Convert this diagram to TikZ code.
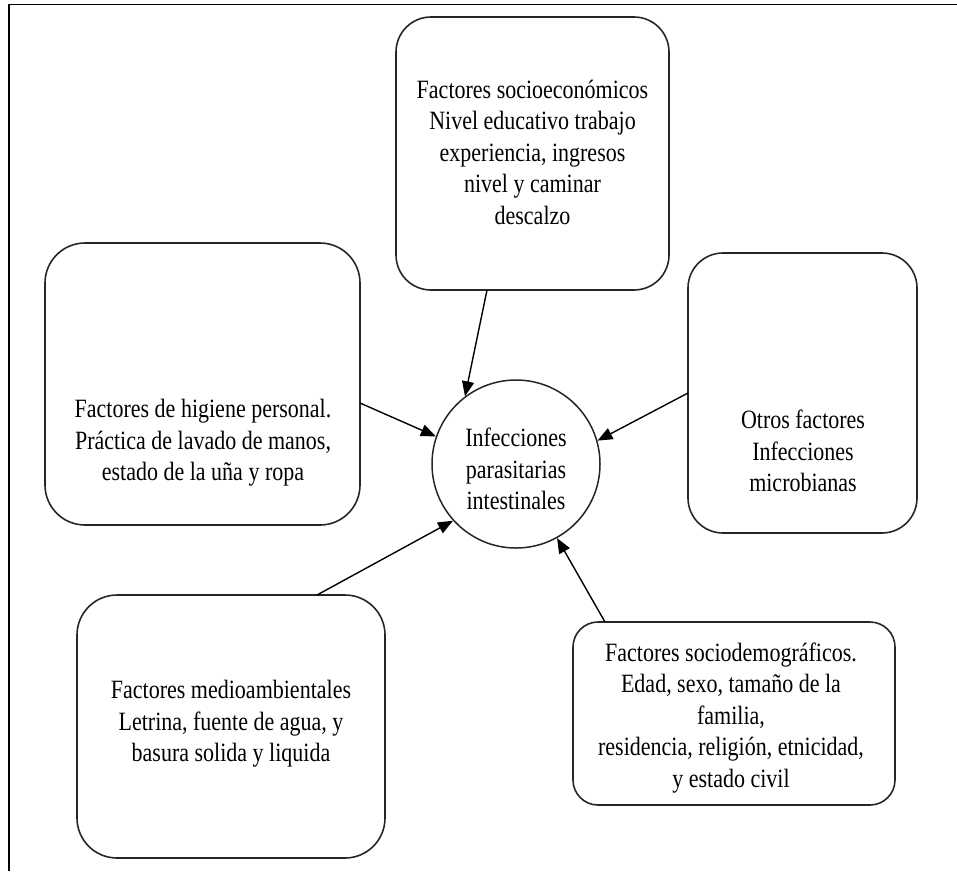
\documentclass[tikz,border=0pt]{standalone}
\usepackage{fontspec}
\usepackage{graphicx}
\setmainfont{Liberation Serif}
\usetikzlibrary{arrows.meta}
\newcommand\estirar[1]{\scalebox{1}[1.2]{\begin{tabular}{@{}c@{}}#1\end{tabular}}}
\tikzset{
  caja/.style={draw=black!85,line width=1.6pt,rounded corners=#1,inner sep=0pt},
  caja/.default=35pt,
  texto/.style={font=\fontsize{22}{26.3}\selectfont,inner sep=0pt},
}
\begin{document}
\begin{tikzpicture}[x=1pt,y=-1pt,>={Triangle[length=15pt,width=12pt]},line join=round]
\useasboundingbox (0,0) rectangle (957,871);
% marco
\draw[line width=1.5pt] (9,871)--(9,4.5)--(957,4.5);
% cajas
\node[caja,minimum width=273pt,minimum height=273pt] (socio) at (532.5,153.5) {};
\node[caja=40pt,minimum width=315pt,minimum height=282pt] (higiene) at (202.5,384) {};
\node[caja,minimum width=229pt,minimum height=280pt] (otros) at (802.5,393) {};
\node[caja=40pt,minimum width=308pt,minimum height=263pt] (medio) at (231,726.5) {};
\node[caja=25pt,minimum width=322pt,minimum height=183pt] (demo) at (734,713.5) {};
\node[draw=black!85,line width=1.5pt,circle,minimum size=168pt,inner sep=0pt] (circ) at (516,464) {};
% textos
\node[texto] (t-socio) at (532.5,155) {\estirar{Factores socioeconómicos\\Nivel educativo trabajo\\experiencia, ingresos\\nivel y caminar\\descalzo}};
\node[texto] (t-higiene) at (203,443) {\estirar{Factores de higiene personal.\\Práctica de lavado de manos,\\estado de la uña y ropa}};
\node[texto] (t-otros) at (803,454) {\estirar{Otros factores\\Infecciones\\microbianas}};
\node[texto] (t-circ) at (516,472) {\estirar{Infecciones\\parasitarias\\intestinales}};
\node[texto] (t-medio) at (231,724) {\estirar{Factores medioambientales\\Letrina, fuente de agua, y\\basura solida y liquida}};
\node[texto] (t-demo) at (731,718) {\estirar{Factores sociodemográficos.\\Edad, sexo, tamaño de la\\familia,\\residencia, religión, etnicidad,\\y estado civil}};
% flechas
\path
(487,290) coordinate (s1)
(360,403) coordinate (s2)
(688,393) coordinate (s3)
(317,595) coordinate (s4)
(605,622) coordinate (s5)
;
\foreach \s/\a in {s1/127,s2/161,s3/16,s4/222,s5/299}
\draw[->,line width=1.4pt] (\s)--(circ.\a);
\end{tikzpicture}
\end{document}
